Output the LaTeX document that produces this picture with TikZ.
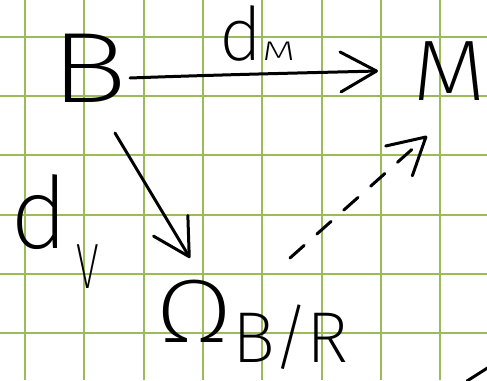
\documentclass[tikz,border=0pt]{standalone}
\usepackage{fontspec}
\usepackage{graphicx}
\IfFontExistsTF{Fira Sans ExtraLight}{\setmainfont{Fira Sans ExtraLight}}{%
  \IfFontExistsTF{Fira Sans Light}{\setmainfont{Fira Sans Light}}{\setmainfont{Liberation Sans}}}
\usetikzlibrary{arrows.meta}
\definecolor{gridgreen}{RGB}{155,187,89}

\begin{document}
\begin{tikzpicture}[x=1pt,y=-1pt,
  gridline/.style={draw=gridgreen, line width=2pt},
  ink/.style={draw=black, line width=3pt, line cap=round, line join=round},
  pen/.style={ink, -{Straight Barb[length=36pt,width=40pt,round]}},
  lbl/.style={inner sep=0pt, anchor=base west, text=black},
]
\useasboundingbox (0,0) rectangle (487,380);
\fill[white] (0,0) rectangle (487,380);

% squared paper
\foreach \i in {0,...,7} \draw[gridline] ({25+59.3*\i},0) -- ++(0,380);
\foreach \j in {0,...,5} \draw[gridline] (0,{37+59.2*\j}) -- ++(487,0);

% objects
\node[lbl, font=\fontsize{100}{100}\selectfont] (B) at (50,102) {\scalebox{1.3}[1]{B}};
\node[lbl, font=\fontsize{86}{86}\selectfont] (M) at (412,100) {\scalebox{1.12}[1]{M}};
\node[lbl, font=\fontsize{90}{90}\selectfont] (O) at (155,342)
  {\scalebox{1.25}[1]{Ω}\raisebox{-20pt}{\fontsize{72}{72}\selectfont B\kern-3pt/\kern-4pt R}};

% morphism labels
\node[lbl, font=\fontsize{74}{74}\selectfont] (dM) at (219,60)
  {d{\fontsize{27}{27}\selectfont\scalebox{1.6}[1]{M}}};
\node[lbl, font=\fontsize{95}{95}\selectfont] (dV) at (10,248)
  {\scalebox{1.05}[1.05]{d}\hspace{8pt}\raisebox{-40pt}{\fontsize{64}{64}\selectfont\scalebox{0.65}[1]{V}}};

% arrows
\draw[pen] ([shift={(80,-24)}]B.base west)
  .. controls +(80,-3) and +(-80,2) .. ([shift={(-34,-29)}]M.base west);
\draw[pen] ([shift={(65,31)}]B.base west) -- ([shift={(35,-84)}]O.base west);
\draw[pen, dash pattern=on 19pt off 17pt] ([shift={(135,-84)}]O.base west)
  -- ([shift={(15,36)}]M.base west);

% stray stroke at the lower right edge
\draw[ink] (467,381) -- (489,367);
\end{tikzpicture}
\end{document}
